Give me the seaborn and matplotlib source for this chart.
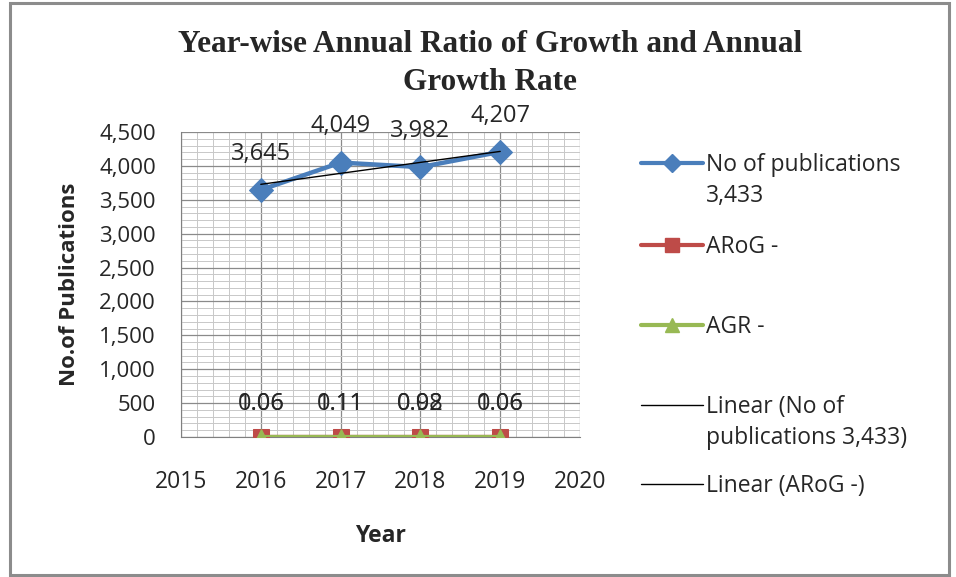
import numpy as np
import pandas as pd
import matplotlib
matplotlib.use("Agg")
import matplotlib.pyplot as plt
from matplotlib.lines import Line2D
from matplotlib.patches import Rectangle
from matplotlib.ticker import MultipleLocator, FuncFormatter
import seaborn as sns

years = [2016, 2017, 2018, 2019]
publications = [3645, 4049, 3982, 4207]
arog = [1.06, 1.11, 0.98, 1.06]
agr = [0.06, 0.11, 0.02, 0.06]
pub_labels = ["3,645", "4,049", "3,982", "4,207"]
arog_labels = ["1.06", "1.11", "0.98", "1.06"]
agr_labels = ["0.06", "0.11", "0.02", "0.06"]
xticks = [2015, 2016, 2017, 2018, 2019, 2020]
legend_first = ["No of publications", "ARoG -", "AGR -", "Linear (No of", "Linear (ARoG -)"]
legend_second = ["3,433", None, None, "publications 3,433)", None]

sns.set_style("white")
plt.rcParams['font.family'] = ['Open Sans', 'DejaVu Sans']

W, H = 956, 577
fig = plt.figure(figsize=(W / 100, H / 100), dpi=100)
fig.patches.append(Rectangle((10 / W, 2 / H), 939 / W, 572 / H, transform=fig.transFigure,
                             fill=False, edgecolor="#8c8c8c", linewidth=2.2, zorder=0))

ax = fig.add_axes([181 / W, 1 - 437 / H, 399 / W, 305 / H])

blue, red, green = "#4A7EBB", "#BE4B48", "#98B954"
txt = "#262626"
df = pd.DataFrame({"Year": years, "pub": publications, "arog": arog, "agr": agr})

# grid
ax.set_xlim(2015, 2020)
ax.set_ylim(0, 4500)
ax.xaxis.set_major_locator(MultipleLocator(1))
ax.xaxis.set_minor_locator(MultipleLocator(0.2))
ax.yaxis.set_major_locator(MultipleLocator(500))
ax.yaxis.set_minor_locator(MultipleLocator(100))
ax.grid(which="major", color="#8a8a8a", linewidth=0.9)
ax.grid(which="minor", color="#c8c8c8", linewidth=0.7)
ax.set_axisbelow(True)

# trendlines
coef = np.polyfit(years, publications, 1)
xs = np.array([years[0], years[-1]])
ax.plot(xs, np.polyval(coef, xs), color="black", lw=1.0, zorder=4)
coef2 = np.polyfit(years, arog, 1)
ax.plot(xs, np.polyval(coef2, xs), color="black", lw=1.0, zorder=2)

sns.lineplot(data=df, x="Year", y="pub", ax=ax, color=blue, lw=3.2, marker="D",
             markersize=12, markeredgecolor=blue, zorder=3)
sns.lineplot(data=df, x="Year", y="arog", ax=ax, color=red, lw=3, marker="s",
             markersize=12, markeredgecolor=red, zorder=3)
sns.lineplot(data=df, x="Year", y="agr", ax=ax, color=green, lw=3, marker="^",
             markersize=11, markeredgecolor=green, zorder=3)

for x, y, t in zip(years, publications, pub_labels):
    ax.annotate(t, (x, y), xytext=(0, 26), textcoords="offset points", ha="center",
                va="center", fontsize=17, color=txt)
for lab_list, vals in ((arog_labels, arog), (agr_labels, agr)):
    for x, y, t in zip(years, vals, lab_list):
        ax.annotate(t, (x, y), xytext=(0, 24), textcoords="offset points", ha="center",
                    va="center", fontsize=17, color=txt)

for s in ["top", "right"]:
    ax.spines[s].set_visible(False)
ax.spines["left"].set_color("#808080")
ax.spines["bottom"].set_color("#808080")
ax.set_xticks(xticks)
ax.set_xticklabels([str(v) for v in xticks])
ax.tick_params(axis="x", which="major", direction="out", length=7, color="#808080",
               pad=17, labelsize=16.5, labelcolor=txt)
ax.tick_params(axis="y", which="major", direction="inout", length=12, color="#808080",
               pad=12, labelsize=16, labelcolor=txt)
ax.tick_params(which="minor", length=0)
ax.yaxis.set_major_formatter(FuncFormatter(lambda v, p: f"{int(v):,}"))
ax.set_xlabel("Year", fontsize=16.5, fontweight="bold", labelpad=21, color=txt)
ax.set_ylabel("No.of Publications", fontsize=16, fontweight="bold", labelpad=14, color=txt)

fig.text(490 / W, 1 - 45 / H, "Year-wise Annual Ratio of Growth and Annual", ha="center",
         va="center", fontsize=22.5, fontweight="bold", family="Liberation Serif")
fig.text(490 / W, 1 - 82 / H, "Growth Rate", ha="center", va="center", fontsize=22.5,
         fontweight="bold", family="Liberation Serif")

handles = [
    Line2D([], [], color=blue, lw=3, marker="D", markersize=9),
    Line2D([], [], color=red, lw=3, marker="s", markersize=10),
    Line2D([], [], color=green, lw=3, marker="^", markersize=10),
    Line2D([], [], color="black", lw=1),
    Line2D([], [], color="black", lw=1),
]
ycent = [165, 247, 327, 407, 486]
legends = []
for h, l, yc in zip(handles, legend_first, ycent):
    lg = fig.legend([h], [l], loc="center left", bbox_to_anchor=(630 / W, 1 - yc / H),
                    frameon=False, fontsize=16.5, handlelength=2.7, handletextpad=0.1,
                    borderpad=0, labelcolor=txt)
    legends.append(lg)

fig.canvas.draw()
r = fig.canvas.get_renderer()
for lg, second, yc in zip(legends, legend_second, ycent):
    if second is None:
        continue
    bb = lg.get_texts()[0].get_window_extent(r)
    fig.text(bb.x0 / W, 1 - (yc + 31) / H, second, ha="left", va="center",
             fontsize=16.5, color=txt)

fig.savefig("out.png", dpi=100)
